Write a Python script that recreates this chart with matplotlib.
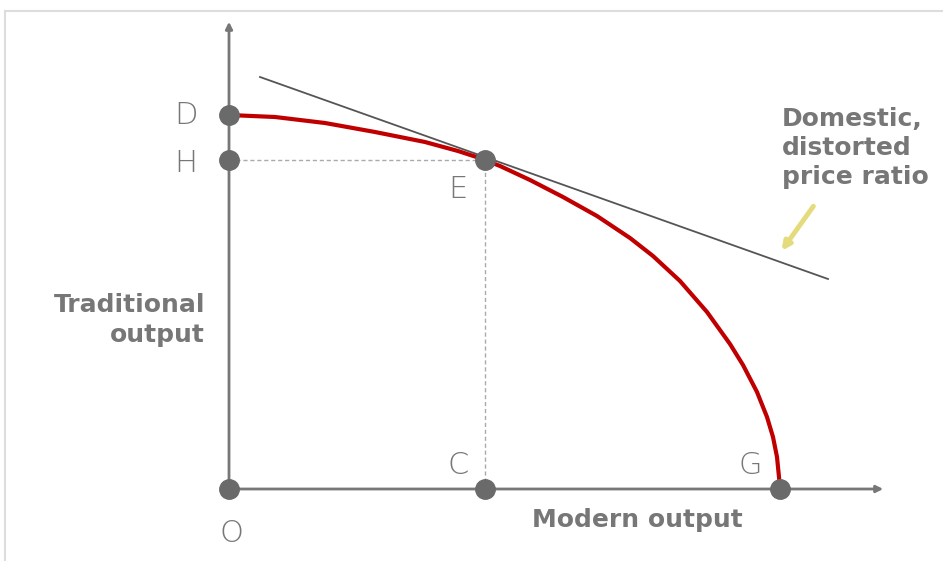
import matplotlib.pyplot as plt
import numpy as np

# coordinates are measured from the origin O, in picture pixels (y up)
# production possibility frontier, read off the picture from D to G
ppf_x = [0, 46, 96, 146, 196, 229, 249, 256, 271, 301, 334, 368, 401,
         424, 451, 478, 501, 514, 528, 538, 544, 548, 550, 551]
ppf_y = [374, 372, 366, 357, 347, 338, 331.5, 329, 323, 309, 292, 273, 251,
         233, 208, 177, 145, 124, 97, 72, 52, 32, 12, 0]

# labelled points
pt_names = ['D', 'H', 'E', 'C', 'G', 'O']
pt_x = [0, 0, 256, 256, 551, 0]
pt_y = [374, 329, 329, 0, 0, 0]

# domestic (distorted) price line, tangent at E
price_x = [31, 599]
price_y = [412, 210]

grey = '#777777'
fig = plt.figure(figsize=(9.43, 5.61), dpi=100)
ax = fig.add_axes([0, 0, 1, 1])
ax.set_xlim(-229, 714)
ax.set_ylim(-72, 489)
ax.axis('off')

# frame lines of the original slide
ax.plot([-224, 714], [478, 478], color='#dddddd', lw=1.5)
ax.plot([-224, -224], [-72, 478], color='#dddddd', lw=1.5)

# axes with arrow heads
ax.annotate('', xy=(0, 470), xytext=(0, 0),
            arrowprops=dict(arrowstyle='-|>', color=grey, lw=2, mutation_scale=10))
ax.annotate('', xy=(657, 0), xytext=(0, 0),
            arrowprops=dict(arrowstyle='-|>', color=grey, lw=2, mutation_scale=10))

# dotted guides from E
ax.plot([0, pt_x[2]], [pt_y[2], pt_y[2]], color='#aaaaaa', lw=1, ls=(0, (3, 2)))
ax.plot([pt_x[2], pt_x[2]], [0, pt_y[2]], color='#aaaaaa', lw=1, ls=(0, (3, 2)))

ax.plot(price_x, price_y, color='#555555', lw=1.3)
ax.plot(ppf_x, ppf_y, color='#c00000', lw=3, solid_capstyle='butt',
        solid_joinstyle='round', zorder=3)

ax.plot(pt_x, pt_y, 'o', color='#6a6a6a', markersize=14, zorder=4, ls='none')

# point letters
offsets = {'D': (-43, 0), 'H': (-43, -3), 'E': (-27, -29), 'C': (-27, 23),
           'G': (-30, 23), 'O': (2, -44)}
for n, x, y in zip(pt_names, pt_x, pt_y):
    dx, dy = offsets[n]
    ax.text(x + dx, y + dy, n, fontsize=22, color=grey, ha='center', va='center',
            family='DejaVu Sans', fontweight='light')

bold = dict(fontsize=18, color=grey, fontweight='bold', family='DejaVu Sans')
ax.text(-24, 169, 'Traditional\noutput', ha='right', va='center',
        linespacing=1.35, **bold)
ax.text(408, -31, 'Modern output', ha='center', va='center', **bold)
ax.text(553, 341, 'Domestic,\ndistorted\nprice ratio', ha='left', va='center',
        linespacing=1.27, **bold)

# yellow pointer to the price line
ax.annotate('', xy=(551, 236), xytext=(586, 285),
            arrowprops=dict(arrowstyle='-|>', color='#e4dc7c', lw=3.5, mutation_scale=12))

fig.savefig('out.png', dpi=100)
